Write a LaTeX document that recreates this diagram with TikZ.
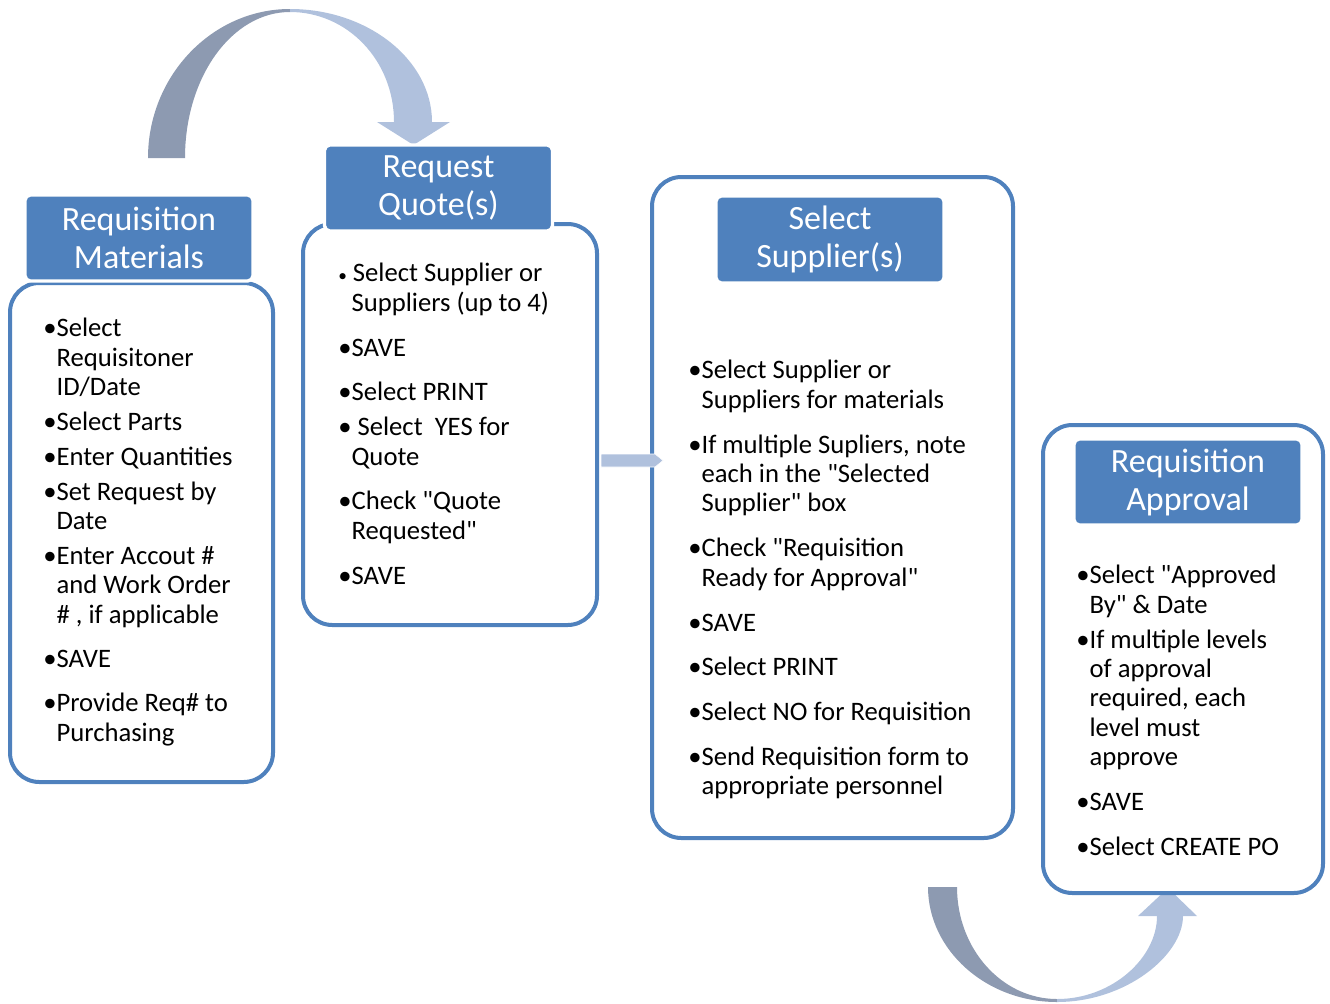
\documentclass[tikz,border=0pt]{standalone}
\usepackage{fontspec}
\setmainfont{Carlito}[Ligatures=TeXOff]
\definecolor{boxblue}{RGB}{79,129,189}
\definecolor{arcdark}{RGB}{141,154,177}
\definecolor{arclight}{RGB}{176,193,221}
\tikzstyle{bodybox} = [draw=boxblue, line width=3pt, rounded corners=22pt, fill=white]
\tikzstyle{titlebox} = [fill=boxblue, draw=white, line width=2.5pt, rounded corners=4pt,
   text=white, align=center, minimum width=171pt, minimum height=64.5pt,
   font=\fontsize{25.5}{28.5}\selectfont]
\tikzstyle{items} = [anchor=north west, inner sep=0pt, align=left,
   font=\fontsize{20}{22.1}\selectfont]
\newcommand{\hng}{\phantom{•}}
\newcommand{\smb}{{\fontsize{13}{13}\selectfont•}}
\begin{document}
\begin{tikzpicture}[x=0.75pt, y=-0.75pt]
  \useasboundingbox (0,0) rectangle (1330,1003);

  % curved arrows behind the boxes
  \fill[arcdark] (148,158) .. controls (148,76) and (212,9) .. (290,9)
     -- (290,12) .. controls (232,12) and (185,77) .. (185,158) -- cycle;
  \fill[arclight] (290,9) .. controls (368,9) and (432,60) .. (432,122)
     -- (450,122) -- (413.5,145) -- (377,122) -- (394,122)
     .. controls (394,60) and (347,12) .. (290,12) -- cycle;
  \fill[arcdark] (928,887) .. controls (928,950) and (986,1002) .. (1057,1002)
     -- (1057,999) .. controls (1002,999) and (957,949) .. (957,887) -- cycle;
  \fill[arclight] (1057,1002) .. controls (1126,1002) and (1183,955) .. (1183,916)
     -- (1197,916) -- (1168,888) -- (1138,916) -- (1157,916)
     .. controls (1157,958) and (1112,999) .. (1057,999) -- cycle;

  % bodies
  \node[bodybox, minimum width=197.25pt, minimum height=374.25pt] (rm) at (141.5,532.5) {};
  \node[bodybox, minimum width=220.5pt, minimum height=300.75pt] (rq) at (450,424.5) {};
  \node[bodybox, minimum width=270.75pt, minimum height=495.75pt] (ss) at (832.5,507.5) {};
  \node[bodybox, minimum width=210pt, minimum height=351pt] (ra) at (1183,659) {};

  % straight arrow from quotes to suppliers
  \filldraw[fill=arclight, draw=white, thin] (601,454) -- (655,454) -- (663,460.5)
     -- (655,467) -- (601,467) -- cycle;

  % titles
  \node[titlebox] (rmt) at (139,238) {Requisition\\Materials};
  \node[titlebox] (rqt) at (438.5,188) {Request\\Quote(s)};
  \node[titlebox, minimum height=65.25pt] (sst) at (830,239.5) {Select\\Supplier(s)};
  \node[titlebox] (rat) at (1188,482) {Requisition\\Approval};

  % bullet lists
  \node[items] (rmx) at (43,318) {•Select\\ \hng Requisitoner\\ \hng ID/Date\\[4pt]
     •Select Parts\\[4pt] •Enter Quantities\\[4pt] •Set Request by\\ \hng Date\\[4pt]
     •Enter Accout \#\\ \hng and Work Order\\ \hng \# , if applicable\\[11pt]
     •SAVE\\[11pt] •Provide Req\# to\\ \hng Purchasing};
  \node[items] (rqx) at (338,263) {\smb\ Select Supplier or\\ \hng Suppliers (up to 4)\\[11.5pt]
     •SAVE\\[11.5pt] •Select PRINT\\[4pt] • Select\ \ YES for\\ \hng Quote\\[11.5pt]
     •Check "Quote\\ \hng Requested"\\[11.5pt] •SAVE};
  \node[items] (ssx) at (688,360) {•Select Supplier or\\ \hng Suppliers for materials\\[11.5pt]
     •If multiple Supliers, note\\ \hng each in the "Selected\\ \hng Supplier" box\\[11.5pt]
     •Check "Requisition\\ \hng Ready for Approval"\\[11.5pt] •SAVE\\[11.5pt]
     •Select PRINT\\[11.5pt] •Select NO for Requisition\\[11.5pt]
     •Send Requisition form to\\ \hng appropriate personnel};
  \node[items] (rax) at (1076,565) {•Select "Approved\\ \hng By" \& Date\\[4pt]
     •If multiple levels\\ \hng of approval\\ \hng required, each\\ \hng level must\\ \hng approve\\[11.5pt]
     •SAVE\\[11.5pt] •Select CREATE PO};
\end{tikzpicture}
\end{document}
